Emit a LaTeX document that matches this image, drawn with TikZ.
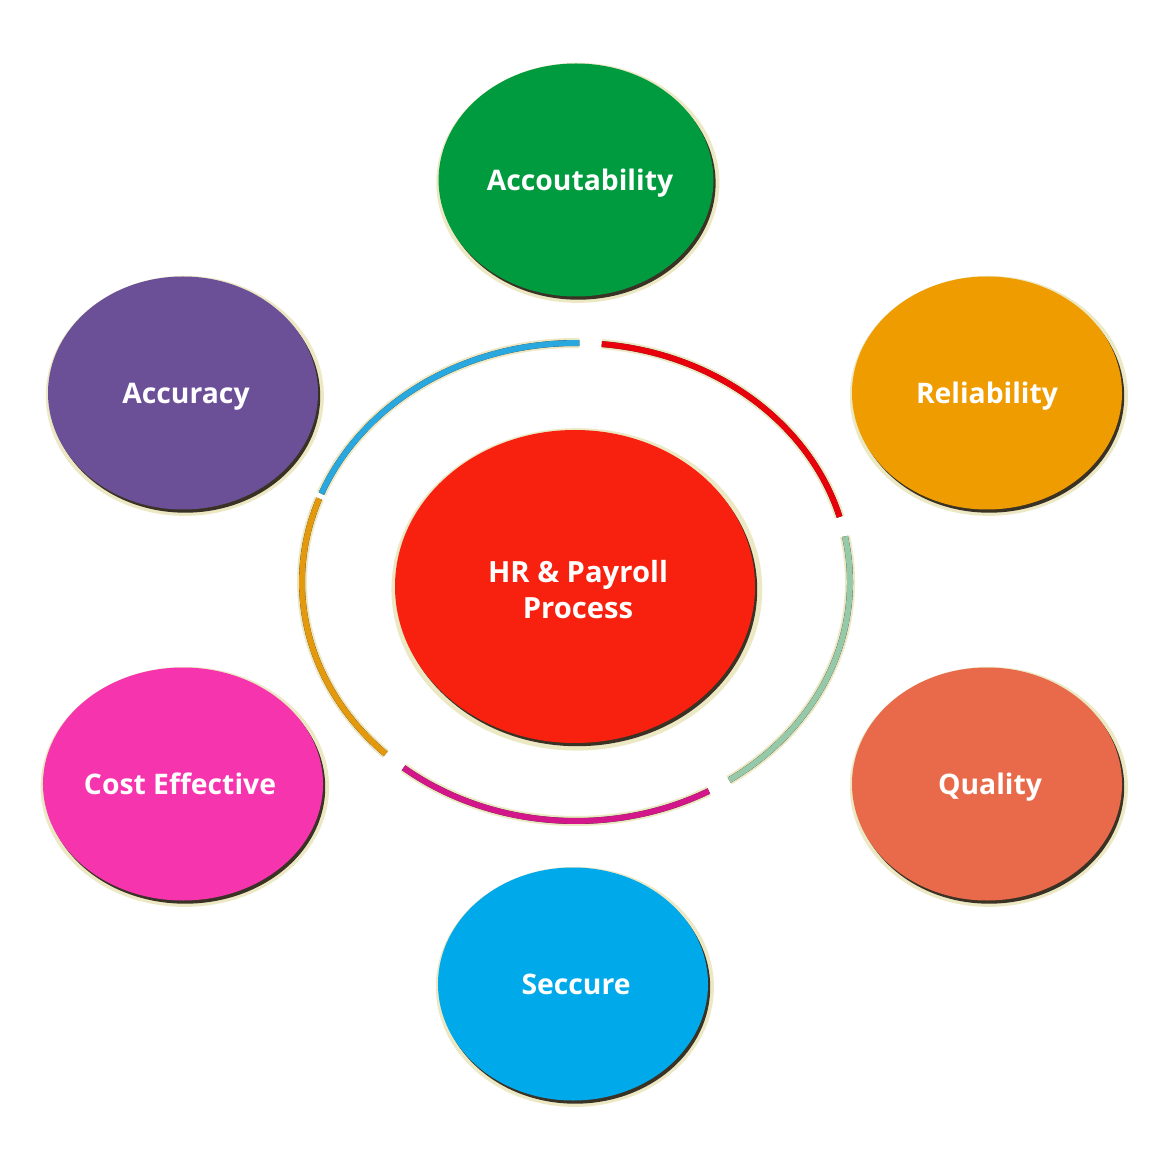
\documentclass[tikz,border=0pt]{standalone}
\usepackage{fontspec}
\setmainfont{Open Sans}
\usetikzlibrary{shapes.geometric,shadows}
\definecolor{cgreen}{HTML}{009B3E}
\definecolor{creliab}{HTML}{EE9C00}
\definecolor{cquality}{HTML}{E86A4A}
\definecolor{cseccure}{HTML}{00A9E9}
\definecolor{ccost}{HTML}{F534AE}
\definecolor{caccur}{HTML}{6B5098}
\definecolor{ccenter}{HTML}{F8210F}
\definecolor{rblue}{HTML}{29A8E0}
\definecolor{rred}{HTML}{E8000D}
\definecolor{rsage}{HTML}{96C9A9}
\definecolor{rmag}{HTML}{D3168A}
\definecolor{rorange}{HTML}{E4980C}
\definecolor{halo}{HTML}{ECE8C4}
\definecolor{rimdark}{HTML}{3A3224}
\tikzset{
  bubble/.style={ellipse, fill=#1, text=white, inner sep=0pt,
    font=\fontsize{14.15}{18}\selectfont\bfseries,
    text height=11.5pt, text depth=1.36pt,
    general shadow={fill=halo, shadow scale=1.03, shadow xshift=0.9pt, shadow yshift=-1.4pt},
    general shadow={fill=rimdark, shadow xshift=1.1pt, shadow yshift=-1.6pt}},
  small/.style={minimum width=135pt, minimum height=116.5pt},
  big/.style={minimum width=180pt, minimum height=156.5pt},
  lbl/.style={text=white, align=center, inner sep=0pt,
    font=\fontsize{14.6}{18}\selectfont\bfseries},
}
\newcommand\ringseg[3]{%
  \draw[line width=5pt, draw=halo, line cap=butt] (ring) ++(#2:137pt and 119.5pt)
     arc[start angle=#2, end angle=#3, x radius=137pt, y radius=119.5pt];
  \draw[line width=3pt, draw=rimdark, line cap=butt, shift={(1.5,1.7)}] (ring) ++(#2:137pt and 119.5pt)
     arc[start angle=#2, end angle=#3, x radius=137pt, y radius=119.5pt];
  \draw[line width=2.9pt, draw=#1, line cap=butt] (ring) ++(#2:137pt and 119.5pt)
     arc[start angle=#2, end angle=#3, x radius=137pt, y radius=119.5pt];
}
\begin{document}
\begin{tikzpicture}[x=0.5pt,y=-0.5pt]
\fill[white] (0,0) rectangle (1156,1154);
\useasboundingbox (0,0) rectangle (1156,1154);
\coordinate (ring) at (576,582);
\ringseg{rblue}{89.3}{158.3}
\ringseg{rorange}{159.6}{226}
\ringseg{rmag}{231}{299}
\ringseg{rsage}{304}{371}
\ringseg{rred}{15.8}{84.6}
\node[bubble=ccenter, big] (hr) at (575,586.5) {};
\node[lbl] (hrtext) at (578,589.5) {HR \& Payroll\\Process};
\node[bubble=cgreen, small] (acc) at (576,180) {\hspace*{4pt}Accoutability};
\node[bubble=creliab, small] (rel) at (987,393) {Reliability};
\node[bubble=cquality, small] (qual) at (987,784) {\hspace*{3pt}Quality};
\node[bubble=cseccure, small] (sec) at (573,984) {\hspace*{3pt}Seccure};
\node[bubble=ccost, small] (cost) at (183,784) {Cost Effective\hspace*{3pt}};
\node[bubble=caccur, small] (accu) at (183,393) {\hspace*{3pt}Accuracy};
\end{tikzpicture}
\end{document}
